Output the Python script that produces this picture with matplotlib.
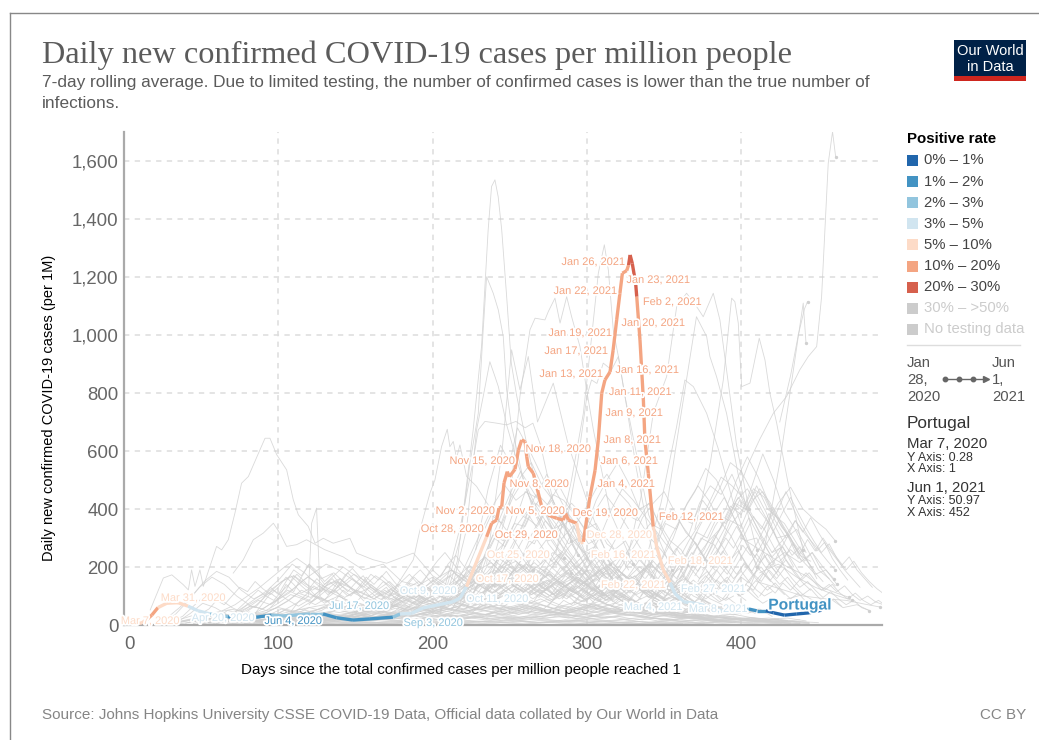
import matplotlib
matplotlib.use("Agg")
import matplotlib.pyplot as plt
import matplotlib.patheffects as pe
from matplotlib.patches import Rectangle
from matplotlib.lines import Line2D

# ---------- text ----------
title = "Daily new confirmed COVID-19 cases per million people"
subtitle = ["7-day rolling average. Due to limited testing, the number of confirmed cases is lower than the true number of",
            "infections."]
y_title = "Daily new confirmed COVID-19 cases (per 1M)"
x_title = "Days since the total confirmed cases per million people reached 1"
source = "Source: Johns Hopkins University CSSE COVID-19 Data, Official data collated by Our World in Data"
x_ticks = [0, 100, 200, 300, 400]
y_ticks = [0, 200, 400, 600, 800, 1000, 1200, 1400, 1600]
y_tick_labels = ["0", "200", "400", "600", "800", "1,000", "1,200", "1,400", "1,600"]
legend_labels = ["0% – 1%", "1% – 2%", "2% – 3%", "3% – 5%", "5% – 10%", "10% – 20%", "20% – 30%", "30% – >50%", "No testing data"]

# ---------- Portugal ----------
pt_days = [1, 11.5, 15, 18, 22, 27.7, 35, 41.5, 48, 55.7, 62, 67.4, 70.6, 86, 95.7, 103, 120.5, 129, 137.8, 148.4,
           159.4, 174.3, 178.9, 186.4, 193.8, 213.2, 217.8, 222, 235, 238.3, 241.5, 243, 244.8, 246.3, 248.4, 249.7,
           253.4, 255.6, 257.7, 260, 261, 262, 265.3, 270.7, 275, 280.4, 284.7, 286.2, 288, 293.4, 295.5, 297.7, 302,
           305.3, 307.4, 309.6, 311.7, 315, 317, 319.3, 321.4, 323, 325.8, 327, 328, 329.4, 331.6, 332.3, 334.4, 336.6,
           337.6, 339.8, 343, 345.2, 349.5, 353.9, 357, 362.5, 370, 378, 388, 398, 405, 410, 416, 421, 428, 436, 444, 452]
pt_cases = [0.28, 7, 20, 34, 60, 75, 77, 65, 49, 38, 32, 29, 24, 27, 34, 31, 38, 38, 25, 17,
            21, 27, 38, 40, 59, 80, 93, 132, 304, 351, 362, 403, 408, 490, 529, 511,
            537, 603, 638, 632, 580, 546, 523, 408, 379, 368, 362, 385, 362, 351, 287, 287, 442,
            534, 638, 799, 845, 873, 948, 1052, 1144, 1213, 1222, 1241, 1276, 1247, 1178, 1132, 983, 776,
            638, 523, 339, 270, 190, 146, 109, 80, 75, 65, 48, 45, 55, 49, 49, 42, 34, 38, 42, 50.97]
pt_bins = [4, 4, 5, 5, 4, 4, 4, 3, 3, 2, 2, 1, 1, 1, 2, 2, 2, 1, 1, 1,
           1, 2, 3, 3, 3, 3, 3, 4, 5, 5, 5, 5, 5, 5, 5, 5,
           5, 5, 5, 5, 5, 5, 5, 5, 5, 5, 5, 5, 5, 4, 4, 5, 5,
           5, 5, 5, 5, 5, 5, 5, 5, 5, 5, 6, 6, 6, 6, 5, 5, 5,
           5, 5, 4, 4, 4, 3, 3, 3, 3, 3, 3, 2, 1, 1, 0, 0, 0, 0, 0]

date_labels = ["Mar 7, 2020", "Mar 31, 2020", "Apr 20, 2020", "Jun 4, 2020", "Jul 17, 2020", "Sep 3, 2020",
               "Oct 9, 2020", "Oct 11, 2020", "Oct 17, 2020", "Oct 25, 2020", "Oct 28, 2020", "Oct 29, 2020",
               "Nov 2, 2020", "Nov 5, 2020", "Nov 8, 2020", "Nov 15, 2020", "Nov 18, 2020", "Dec 19, 2020",
               "Dec 28, 2020", "Jan 4, 2021", "Jan 6, 2021", "Jan 8, 2021", "Jan 9, 2021", "Jan 11, 2021",
               "Jan 13, 2021", "Jan 16, 2021", "Jan 17, 2021", "Jan 19, 2021", "Jan 20, 2021", "Jan 22, 2021",
               "Jan 23, 2021", "Jan 26, 2021", "Feb 2, 2021", "Feb 12, 2021", "Feb 16, 2021", "Feb 18, 2021",
               "Feb 22, 2021", "Feb 27, 2021", "Mar 4, 2021", "Mar 8, 2021"]
date_label_bins = [4, 4, 3, 1, 2, 2, 3, 3, 4, 4, 5, 5, 5, 5, 5, 5, 5, 5, 4, 5, 5, 5, 5, 5, 5, 5, 5, 5, 5, 5, 5, 5, 5, 5,
                   4, 4, 4, 3, 3, 3]

# ---------- other countries: tall lines ----------
grey_tall_days = [
    [17, 25.5, 31, 38.4, 41.7, 43.8, 46, 49.2, 51.4, 60, 63.3, 67.6, 71.9, 76.2, 80.6, 88.1, 91.4, 94.6, 99, 105.4, 109.7, 113, 119.4, 123.8, 129.2, 135.6, 146.4, 150.7, 161.5, 170.2, 187.5, 200, 215, 230],
    [70.8, 77.3, 83.8, 90.3, 96.8, 101, 105.4, 111.9, 118.3, 130, 142, 155, 168, 180, 195, 210, 225],
    [100, 119.4, 121.6, 124.8, 126.3, 127, 135, 150],
    [170, 187.5, 191.8, 198.3, 201.5, 205.8, 209.5, 211.2, 213.4, 215.5, 217.7, 222, 228.5, 240, 252, 265],
    [205, 216, 226.3, 231.7, 236, 238.2, 240.4, 242.5, 244.8, 248, 251, 254.5, 262, 270, 280, 295, 310],
    [205, 218, 224.2, 229.6, 232.8, 235, 239.3, 242.6, 245.8, 248, 251, 258, 265, 275, 290],
    [210, 222, 228.5, 232.8, 237.1, 240.4, 242.6, 248, 255, 262, 272, 285],
    [205, 218, 226, 229.6, 233.9, 241.5, 248, 254, 260, 265, 270, 278, 290],
    [240, 250, 256.6, 263.1, 266.4, 272.8, 275, 279.3, 282.6, 286.9, 290.1, 295.5, 299.8, 304.2, 315, 330],
    [280, 290, 297.7, 303.1, 307.4, 311.3, 313.9, 317.1, 320.4, 324.7, 329, 340, 355],
    [325, 335, 343, 351.7, 356, 358.2, 364.6, 371.1, 375.4, 381.9, 386.2, 390.5, 397, 405],
    [370, 380, 388.4, 393.8, 395.9, 398.1, 400.3, 405.7, 411.7, 415.4, 418.6, 423, 430, 440],
    [405, 415, 425, 431.6, 437, 440.2, 442],
    [425, 432, 437, 441, 443],
    [395, 405, 412, 420.8, 429.4, 438, 443.5, 448.9, 452.1, 456.4, 459.2, 461.2],
    [340, 352, 362, 371, 377.6, 379.7, 384, 390.5, 398, 410],
    [335, 348, 358, 363.5, 369, 377.6, 385, 395, 410],
    [235, 245, 251.2, 256.6, 262, 268, 278.2, 288, 300, 315],
    [285, 294, 300, 303, 306.5, 310.6, 316, 320.4, 324.7, 332, 342],
    [228, 236, 244, 250, 255, 263, 272, 282, 294],
]
grey_tall_vals = [
    [52, 162, 173, 139, 121, 190, 133, 190, 133, 271, 259, 294, 386, 489, 512, 604, 644, 644, 587, 535, 432, 380, 340, 282, 299, 282, 299, 248, 225, 213, 248, 170, 120, 90],
    [179, 225, 294, 317, 351, 317, 271, 277, 294, 260, 235, 190, 210, 150, 130, 110, 80],
    [40, 98, 351, 403, 213, 98, 70, 50],
    [80, 225, 328, 455, 500, 615, 675, 615, 633, 575, 621, 512, 478, 380, 300, 190],
    [40, 220, 673, 960, 1362, 1512, 1535, 1477, 1362, 1132, 903, 790, 600, 420, 300, 200, 110],
    [50, 300, 558, 730, 1018, 1201, 1144, 1086, 994, 810, 690, 520, 400, 280, 180],
    [70, 330, 673, 788, 908, 857, 822, 690, 560, 450, 330, 230],
    [70, 340, 558, 673, 702, 696, 690, 702, 680, 696, 620, 430, 290],
    [240, 420, 788, 1018, 1058, 1052, 1081, 1127, 1041, 1132, 1063, 960, 811, 673, 390, 210],
    [250, 500, 730, 995, 1213, 1311, 1224, 1017, 926, 788, 673, 380, 190],
    [200, 440, 730, 857, 1018, 1098, 1144, 1098, 1063, 1144, 1052, 880, 620, 400],
    [330, 560, 845, 1127, 1115, 1041, 822, 834, 989, 914, 799, 696, 500, 260],
    [120, 260, 560, 799, 995, 1110, 972],
    [700, 860, 1000, 1090, 1115],
    [420, 560, 640, 730, 788, 880, 926, 960, 1132, 1592, 1701, 1615],
    [180, 420, 760, 1063, 995, 926, 857, 730, 520, 260],
    [160, 420, 680, 845, 822, 730, 610, 420, 200],
    [210, 600, 949, 811, 926, 700, 834, 620, 430, 210],
    [300, 560, 790, 845, 833, 903, 880, 926, 788, 540, 260],
    [260, 470, 620, 560, 680, 600, 500, 380, 240],
]

# ---------- other countries: mid-height lines (a value every 7 days) ----------
grey_mid_start = [205, 210, 215, 218, 222, 225, 228, 232, 235, 212, 240, 245, 250, 262, 270, 278, 285,
                  330, 335, 340, 345, 350, 352, 355, 358, 360, 362, 365, 370, 372, 375, 380, 295, 305, 315, 320]
grey_mid_vals = [
    [60, 110, 180, 260, 340, 420, 480, 430, 460, 390, 320, 260, 230, 170, 120],
    [70, 130, 210, 300, 380, 350, 440, 500, 420, 360, 310, 240, 190, 150],
    [50, 90, 170, 270, 360, 450, 530, 470, 410, 330, 350, 270, 200, 130, 100],
    [80, 160, 220, 310, 290, 400, 370, 450, 390, 340, 280, 300, 210, 150],
    [60, 140, 250, 330, 430, 510, 560, 480, 430, 350, 300, 230, 170],
    [90, 170, 240, 280, 350, 340, 420, 380, 320, 360, 280, 220, 240, 160],
    [70, 120, 230, 320, 300, 380, 440, 400, 340, 300, 250, 190, 160, 110],
    [100, 180, 260, 350, 460, 440, 520, 450, 380, 300, 320, 240, 180],
    [120, 190, 250, 320, 400, 360, 430, 350, 290, 250, 270, 190, 140],
    [50, 110, 160, 230, 300, 270, 340, 390, 330, 290, 310, 250, 200, 170],
    [130, 200, 290, 370, 340, 420, 480, 410, 350, 290, 240, 210, 170],
    [160, 230, 300, 280, 360, 320, 390, 340, 280, 300, 230, 180],
    [170, 220, 310, 380, 450, 430, 380, 330, 350, 280, 250, 190],
    [180, 260, 310, 370, 420, 380, 340, 310, 260, 290, 220],
    [150, 230, 300, 340, 300, 390, 450, 400, 340, 280, 220, 180],
    [200, 260, 340, 400, 470, 520, 460, 420, 360, 300, 260, 210],
    [190, 240, 330, 430, 500, 560, 490, 400, 420, 330, 260, 190],
    [120, 180, 260, 350, 330, 420, 480, 430, 360, 310, 240, 180],
    [100, 170, 230, 300, 400, 460, 540, 500, 420, 340, 260, 190, 150],
    [120, 210, 300, 370, 350, 430, 380, 440, 360, 290, 300, 220, 170],
    [100, 190, 270, 310, 420, 480, 450, 520, 430, 360, 280, 210],
    [110, 180, 240, 320, 300, 380, 360, 430, 380, 310, 250, 270, 200],
    [130, 220, 290, 350, 430, 510, 480, 440, 370, 330, 260, 190],
    [120, 160, 250, 310, 380, 350, 430, 470, 400, 350, 280, 230, 170],
    [150, 240, 330, 400, 470, 560, 530, 460, 390, 320, 240],
    [160, 220, 300, 280, 350, 420, 390, 460, 390, 300, 310, 230],
    [140, 210, 260, 340, 400, 500, 580, 510, 420, 350, 300, 220],
    [160, 240, 290, 330, 410, 380, 480, 590, 500, 390, 330, 250],
    [170, 230, 310, 370, 440, 400, 470, 420, 340, 290, 240, 190],
    [150, 220, 270, 360, 340, 430, 460, 380, 350, 290, 230, 160],
    [190, 260, 330, 420, 400, 480, 400, 370, 310, 240, 220],
    [200, 280, 350, 400, 470, 440, 360, 300, 330, 260, 190, 160],
    [180, 240, 310, 400, 470, 430, 380, 330, 280, 240],
    [170, 230, 300, 380, 360, 420, 350, 290, 260, 200],
    [160, 210, 280, 370, 420, 460, 390, 320, 280, 210],
    [180, 240, 300, 350, 330, 400, 340, 290, 230, 190],
]

# ---------- other countries: low lines (a value every 8 days) ----------
grey_low_start = [20, 25, 30, 35, 40, 45, 50, 55, 60, 65, 70, 75, 80, 90, 100, 110, 120, 130, 140, 150, 160, 170, 180,
                  22, 28, 33, 48, 58, 68, 78, 88, 98, 108, 118, 128, 138]
grey_low_vals = [
    [5, 25, 60, 100, 150, 185, 165, 120, 90, 110, 140, 170, 130, 95, 140, 160, 125, 90, 120, 150, 110, 90, 120, 150, 190, 170, 130, 160, 200, 230, 190, 150, 130, 170, 210, 250, 230, 190, 150, 170, 210, 180, 140, 160, 120, 90, 70, 50, 40, 55, 30],
    [8, 35, 80, 130, 165, 140, 100, 70, 95, 120, 90, 65, 90, 130, 150, 120, 100, 85, 120, 90, 70, 95, 130, 110, 150, 190, 160, 130, 170, 210, 180, 140, 175, 220, 190, 150, 180, 130, 150, 195, 160, 120, 140, 100, 80, 60, 45, 60, 40],
    [10, 30, 70, 110, 90, 60, 40, 70, 110, 150, 170, 140, 120, 160, 200, 170, 130, 100, 120, 95, 75, 100, 140, 120, 90, 130, 170, 200, 220, 180, 210, 250, 220, 170, 190, 150, 120, 160, 200, 170, 130, 110, 130, 90, 70, 55, 40, 50],
    [12, 40, 75, 60, 35, 20, 35, 60, 85, 110, 150, 180, 210, 190, 160, 130, 170, 140, 110, 90, 110, 140, 170, 130, 150, 180, 230, 200, 160, 200, 180, 140, 160, 130, 170, 210, 240, 200, 150, 120, 140, 100, 75, 60, 45, 35, 45],
    [6, 18, 30, 50, 70, 100, 130, 165, 200, 230, 200, 160, 180, 140, 110, 130, 100, 85, 110, 140, 165, 130, 100, 130, 160, 190, 160, 120, 155, 190, 220, 180, 140, 170, 200, 160, 130, 150, 110, 90, 115, 85, 65, 50, 60],
    [5, 15, 25, 35, 60, 90, 120, 160, 210, 180, 140, 110, 140, 175, 150, 120, 100, 125, 100, 80, 100, 85, 120, 150, 180, 150, 180, 210, 185, 150, 130, 160, 135, 175, 200, 170, 125, 95, 120, 95, 70, 50, 62, 44],
    [4, 12, 25, 45, 65, 55, 85, 120, 100, 80, 115, 150, 130, 110, 90, 115, 140, 105, 80, 65, 90, 120, 150, 125, 160, 200, 170, 145, 120, 150, 115, 145, 175, 210, 180, 140, 110, 130, 100, 80, 60, 72, 52],
    [6, 15, 30, 55, 85, 70, 100, 130, 165, 140, 120, 95, 120, 100, 75, 95, 125, 150, 120, 95, 75, 100, 80, 110, 140, 170, 140, 110, 145, 180, 155, 125, 100, 130, 155, 120, 95, 75, 90, 65, 50, 62, 40],
    [5, 18, 40, 65, 50, 75, 105, 90, 70, 95, 125, 160, 130, 95, 75, 95, 75, 100, 130, 105, 130, 160, 135, 105, 135, 115, 150, 185, 150, 120, 155, 190, 165, 130, 105, 125, 95, 70, 55, 68, 48],
    [7, 20, 45, 35, 55, 80, 110, 95, 125, 105, 85, 65, 85, 70, 95, 120, 95, 75, 60, 85, 110, 85, 115, 145, 120, 90, 120, 155, 125, 95, 125, 100, 135, 165, 140, 105, 80, 100, 70, 55, 42],
    [5, 12, 20, 35, 55, 45, 70, 95, 80, 60, 80, 60, 45, 65, 85, 70, 55, 75, 95, 75, 105, 135, 160, 130, 100, 120, 95, 130, 165, 135, 105, 85, 110, 140, 110, 85, 65, 50, 60, 40],
    [10, 25, 40, 60, 85, 120, 100, 80, 100, 80, 60, 80, 65, 90, 115, 90, 70, 55, 80, 105, 85, 110, 140, 115, 140, 175, 145, 115, 90, 110, 135, 105, 80, 100, 75, 60, 45, 55],
    [8, 15, 30, 50, 40, 60, 50, 75, 60, 45, 60, 80, 65, 50, 70, 90, 70, 100, 130, 110, 85, 110, 90, 120, 150, 125, 95, 120, 90, 75, 100, 80, 60, 75, 55, 40, 50, 36],
    [10, 22, 38, 55, 45, 65, 85, 70, 55, 70, 55, 75, 95, 75, 60, 85, 110, 90, 115, 145, 120, 95, 125, 155, 130, 100, 80, 105, 85, 110, 85, 65, 50, 62, 46],
    [12, 25, 35, 50, 65, 50, 40, 55, 70, 55, 75, 100, 125, 100, 80, 105, 130, 160, 130, 100, 130, 105, 85, 105, 135, 110, 85, 105, 80, 60, 75, 55, 42, 52],
    [10, 20, 30, 45, 60, 80, 65, 85, 110, 90, 70, 95, 120, 145, 170, 140, 110, 140, 175, 140, 110, 85, 110, 135, 105, 80, 100, 70, 55, 40, 52, 38],
    [8, 18, 32, 25, 40, 55, 45, 65, 50, 75, 100, 130, 105, 85, 110, 140, 165, 135, 105, 130, 100, 125, 155, 125, 95, 120, 90, 70, 85, 60, 45, 56],
    [15, 25, 20, 35, 50, 70, 90, 115, 95, 75, 100, 130, 160, 130, 100, 125, 150, 120, 95, 120, 150, 120, 90, 115, 85, 65, 50, 62, 44],
    [20, 30, 25, 40, 60, 85, 110, 135, 165, 190, 155, 125, 155, 185, 150, 120, 150, 175, 140, 110, 130, 100, 125, 95, 75, 55, 68, 48],
    [15, 28, 45, 70, 100, 130, 110, 145, 180, 150, 190, 215, 175, 140, 170, 135, 105, 135, 165, 130, 100, 120, 90, 70, 82, 58, 44],
    [18, 30, 50, 80, 115, 155, 125, 165, 205, 170, 135, 165, 200, 165, 130, 160, 190, 150, 120, 140, 105, 85, 60, 74, 52],
    [20, 40, 70, 105, 85, 120, 160, 200, 235, 195, 155, 185, 215, 175, 140, 170, 135, 160, 125, 100, 80, 60, 72, 50],
    [25, 50, 90, 140, 115, 155, 200, 240, 205, 170, 210, 250, 205, 165, 195, 230, 185, 150, 175, 135, 105, 80, 96, 66],
    [3, 12, 22, 35, 28, 38, 30, 22, 30, 20, 15, 24, 32, 25, 18, 26, 38, 30, 22, 34, 46, 36, 50, 65, 52, 42, 60, 78, 62, 50, 72, 90, 70, 55, 75, 95, 78, 60, 80, 62, 48, 58, 44, 34, 42, 30, 24, 18, 24, 16, 20, 14, 18],
    [4, 10, 18, 26, 20, 14, 20, 12, 18, 26, 20, 14, 10, 16, 24, 18, 30, 22, 36, 28, 44, 35, 55, 70, 55, 68, 85, 68, 55, 70, 55, 42, 60, 48, 66, 82, 65, 50, 62, 48, 38, 46, 32, 26, 20, 15, 20, 14, 18, 12, 15, 10],
    [5, 14, 24, 16, 24, 34, 26, 38, 28, 20, 28, 38, 30, 22, 30, 42, 32, 24, 34, 26, 38, 50, 40, 30, 44, 34, 48, 38, 52, 68, 54, 42, 56, 44, 34, 46, 36, 48, 38, 28, 36, 26, 20, 26, 18, 22, 15, 18, 12],
    [4, 10, 16, 24, 18, 12, 18, 26, 20, 30, 22, 16, 24, 34, 26, 20, 28, 38, 30, 42, 32, 25, 36, 28, 42, 34, 46, 36, 28, 38, 30, 40, 32, 24, 30, 22, 18, 24, 16, 20, 14, 18, 12, 15, 10],
    [6, 12, 8, 14, 20, 14, 10, 16, 24, 18, 26, 20, 14, 20, 28, 22, 16, 24, 32, 26, 20, 30, 24, 36, 28, 22, 30, 24, 32, 26, 18, 24, 30, 22, 16, 22, 14, 18, 12, 15, 10, 13, 9],
    [3, 8, 14, 10, 16, 12, 8, 12, 18, 14, 10, 14, 20, 16, 12, 18, 24, 18, 14, 20, 28, 22, 16, 22, 30, 24, 18, 14, 18, 24, 18, 14, 18, 12, 9, 12, 8, 11, 7, 9, 6, 8],
    [5, 8, 6, 10, 14, 10, 8, 12, 9, 14, 18, 14, 10, 7, 11, 16, 12, 9, 14, 10, 16, 22, 17, 12, 16, 12, 18, 14, 10, 14, 11, 8, 11, 7, 9, 6, 8, 5, 7],
    [3, 6, 9, 7, 5, 8, 12, 9, 7, 10, 7, 5, 8, 11, 8, 6, 9, 13, 10, 7, 10, 14, 11, 8, 12, 9, 6, 9, 12, 9, 7, 5, 8, 5, 7, 4, 6],
    [4, 7, 5, 8, 6, 4, 6, 9, 7, 5, 8, 6, 4, 6, 9, 7, 10, 14, 11, 8, 11, 8, 12, 9, 13, 10, 7, 5, 8, 6, 4, 6, 4, 5],
    [2, 4, 3, 5, 3, 2, 4, 6, 4, 3, 5, 7, 5, 3, 5, 4, 6, 8, 6, 4, 6, 9, 6, 4, 6, 4, 3, 5, 3, 2, 3, 2],
    [8, 16, 24, 34, 46, 60, 48, 38, 48, 62, 50, 64, 82, 66, 52, 66, 52, 40, 54, 70, 56, 44, 58, 46, 60, 76, 62, 48, 38, 48, 36, 44, 30],
    [10, 18, 28, 40, 32, 44, 58, 46, 60, 48, 36, 48, 62, 80, 64, 50, 66, 84, 68, 54, 42, 56, 70, 56, 44, 58, 44, 34, 44, 32, 38, 26],
    [12, 22, 34, 28, 38, 50, 66, 82, 66, 52, 68, 54, 70, 90, 110, 88, 70, 88, 70, 56, 72, 56, 70, 54, 42, 54, 40, 30, 24, 32, 22],
]

# ---------- other countries: short wiggly stretches (a value every 5 days) ----------
grey_dense_start = [50, 62, 75, 85, 95, 108, 120, 132, 145, 158, 170,
                    205, 214, 222, 230, 240, 248, 258, 266, 275, 284, 292, 300, 308, 316, 325, 333, 342, 350, 358, 366, 374, 382, 390, 398,
                    212, 226, 244, 262, 280, 298, 316, 334, 352, 370, 388, 404, 412]
grey_dense_vals = [
    [40, 55, 85, 70, 100, 130, 115, 150, 125, 105, 130, 165, 140, 110, 125, 95, 75, 90, 65, 50],
    [30, 50, 45, 70, 95, 120, 100, 85, 115, 140, 175, 150, 120, 135, 105, 120, 90, 70, 60, 45],
    [50, 70, 60, 90, 130, 105, 150, 190, 170, 210, 175, 140, 160, 125, 100, 115, 85, 65, 75, 50],
    [40, 75, 110, 90, 120, 170, 145, 125, 160, 130, 110, 140, 180, 150, 125, 95, 110, 85, 65],
    [60, 90, 140, 115, 165, 210, 185, 150, 175, 140, 115, 145, 170, 130, 110, 130, 95, 80, 60],
    [45, 80, 105, 135, 115, 150, 130, 170, 195, 165, 140, 120, 150, 125, 100, 120, 90, 75],
    [70, 100, 85, 120, 160, 135, 110, 140, 175, 155, 185, 150, 120, 140, 105, 85, 100, 70],
    [60, 85, 120, 100, 130, 165, 140, 170, 145, 115, 135, 165, 190, 160, 130, 100, 120, 90],
    [50, 75, 105, 140, 115, 90, 120, 150, 175, 145, 120, 140, 170, 205, 175, 140, 115, 90],
    [45, 70, 95, 125, 105, 135, 165, 140, 185, 220, 250, 215, 180, 150, 175, 140, 110, 90],
    [55, 80, 115, 95, 130, 160, 190, 165, 210, 240, 205, 175, 200, 165, 130, 150, 120, 95],
    [50, 80, 120, 95, 140, 185, 160, 210, 245, 215, 180, 205, 165, 135, 155, 120, 100, 130, 100, 80],
    [70, 105, 90, 135, 170, 150, 195, 230, 260, 225, 190, 165, 195, 160, 130, 145, 115, 95, 110, 85],
    [60, 95, 130, 115, 160, 200, 180, 220, 270, 300, 260, 220, 245, 205, 170, 195, 155, 125, 105, 80],
    [80, 115, 150, 130, 170, 215, 190, 240, 210, 255, 220, 185, 160, 185, 150, 125, 145, 115, 90, 100],
    [75, 110, 95, 140, 175, 155, 195, 235, 205, 245, 280, 240, 200, 225, 180, 150, 170, 135, 110, 90],
    [90, 125, 105, 150, 185, 165, 205, 250, 220, 190, 225, 260, 220, 185, 155, 180, 145, 120, 135, 100],
    [70, 105, 140, 120, 160, 200, 175, 145, 180, 220, 190, 160, 190, 155, 125, 145, 120, 100, 80, 95],
    [85, 120, 100, 135, 170, 150, 190, 165, 210, 240, 205, 170, 145, 170, 135, 155, 125, 100, 115, 85],
    [65, 100, 135, 115, 155, 190, 165, 200, 175, 215, 255, 215, 180, 205, 165, 135, 110, 130, 100, 80],
    [90, 125, 105, 140, 120, 165, 200, 175, 150, 185, 225, 195, 160, 135, 160, 125, 105, 125, 95, 75],
    [75, 110, 145, 125, 160, 135, 175, 210, 245, 210, 180, 215, 175, 145, 170, 135, 110, 90, 110, 85],
    [100, 135, 115, 155, 190, 165, 135, 170, 205, 240, 205, 170, 195, 155, 130, 150, 120, 100, 85, 100],
    [85, 120, 155, 130, 170, 145, 185, 220, 190, 225, 265, 225, 190, 160, 185, 145, 120, 140, 105, 85],
    [95, 130, 110, 150, 185, 215, 185, 155, 190, 230, 200, 240, 200, 165, 140, 165, 130, 105, 125, 95],
    [70, 105, 140, 175, 150, 190, 165, 205, 245, 285, 245, 205, 235, 195, 160, 185, 150, 120, 100, 115],
    [85, 120, 105, 145, 190, 160, 205, 250, 215, 260, 310, 270, 225, 255, 210, 175, 200, 160, 130, 105],
    [80, 115, 150, 130, 170, 215, 185, 230, 280, 240, 290, 340, 295, 250, 215, 245, 200, 165, 135, 110],
    [90, 130, 110, 150, 195, 240, 205, 255, 300, 265, 315, 370, 320, 275, 235, 265, 215, 175, 145, 120],
    [70, 110, 145, 125, 170, 210, 255, 220, 270, 320, 375, 330, 385, 330, 280, 240, 270, 220, 180, 150],
    [95, 135, 115, 160, 205, 175, 225, 275, 240, 290, 345, 405, 350, 300, 260, 220, 250, 200, 165, 135],
    [80, 120, 155, 135, 180, 225, 270, 235, 285, 340, 400, 460, 400, 345, 300, 255, 285, 230, 190, 155],
    [105, 145, 125, 170, 215, 185, 235, 285, 335, 390, 440, 385, 335, 290, 250, 280, 230, 190, 160, 130],
    [90, 130, 165, 145, 190, 240, 205, 255, 305, 360, 320, 370, 320, 275, 240, 205, 235, 190, 160, 130],
    [100, 140, 120, 165, 210, 180, 230, 280, 245, 295, 255, 300, 260, 225, 190, 220, 180, 150, 125, 105],
    [40, 60, 85, 70, 105, 90, 125, 160, 135, 170, 140, 115, 140, 110, 90, 105, 80, 65, 75, 55],
    [45, 70, 60, 90, 120, 100, 130, 165, 140, 115, 135, 105, 125, 100, 80, 95, 70, 60, 50, 60],
    [55, 75, 100, 85, 115, 95, 130, 105, 140, 170, 145, 120, 100, 120, 95, 75, 90, 70, 55, 65],
    [40, 65, 55, 80, 105, 90, 120, 100, 130, 110, 85, 105, 125, 100, 80, 65, 80, 60, 50, 40],
    [60, 85, 70, 100, 85, 115, 145, 120, 95, 120, 150, 120, 95, 115, 90, 70, 85, 65, 50, 60],
    [50, 75, 100, 85, 110, 135, 110, 140, 115, 90, 110, 135, 110, 90, 75, 90, 70, 55, 65, 45],
    [65, 90, 75, 105, 130, 110, 140, 170, 140, 110, 135, 105, 125, 100, 80, 95, 75, 60, 45, 55],
    [55, 80, 105, 90, 120, 100, 130, 155, 130, 160, 190, 155, 125, 100, 120, 95, 75, 90, 65, 50],
    [70, 95, 80, 110, 140, 170, 140, 175, 210, 175, 210, 175, 145, 120, 145, 115, 90, 110, 80, 60],
    [80, 110, 140, 120, 155, 130, 170, 205, 245, 205, 170, 140, 165, 130, 105, 125, 95, 75, 90, 65],
    [90, 125, 105, 140, 175, 150, 190, 160, 195, 160, 130, 150, 120, 95, 115, 90, 70, 85, 60, 50],
    [120, 150, 180, 155, 190, 225, 190, 155, 180, 145, 120, 140, 110, 90, 110, 85, 70, 85, 65, 60],
    [100, 135, 110, 145, 120, 150, 180, 150, 120, 140, 115, 135, 105, 85, 100, 80, 70, 62, 55, 48],
]

# ---------- other countries: line ends past day 430 ----------
grey_end_days = [
    [415, 424, 432, 440, 448, 455, 461], [420, 428, 435, 442, 450, 456, 461], [410, 425, 440, 455, 468, 480, 490],
    [425, 432, 440, 448, 455, 462], [412, 424, 436, 448, 460, 472], [400, 415, 430, 442, 452, 462, 470],
    [418, 428, 438, 446, 453, 460], [430, 440, 450, 458, 466, 475, 483],
]
grey_end_vals = [
    [330, 420, 475, 400, 360, 330, 290], [250, 300, 360, 310, 260, 220, 190], [150, 125, 100, 90, 85, 72, 62],
    [220, 260, 220, 175, 190, 140], [180, 210, 165, 130, 105, 85], [300, 250, 200, 170, 130, 110, 95],
    [210, 250, 215, 250, 200, 160], [90, 105, 75, 90, 60, 70, 50],
]

# ---------- other countries: lines near the floor (a value every 12 days) ----------
grey_floor_start = [30, 36, 42, 48, 54, 60, 66, 72, 78, 84, 34, 52, 70, 88, 106, 124]
grey_floor_vals = [
    [6, 18, 30, 24, 38, 30, 22, 34, 46, 36, 28, 40, 30, 44, 58, 46, 34, 50, 62, 48, 36, 52, 42, 58, 44, 60, 48, 36, 26, 34, 24, 18, 14, 10, 12, 8],
    [4, 14, 26, 20, 14, 24, 18, 28, 38, 30, 22, 34, 26, 38, 30, 42, 54, 42, 32, 46, 36, 24, 38, 50, 38, 28, 40, 30, 22, 16, 20, 12, 9, 12, 7],
    [8, 20, 36, 28, 42, 34, 46, 36, 26, 38, 52, 40, 30, 44, 34, 24, 36, 48, 60, 46, 34, 48, 66, 50, 38, 26, 36, 28, 20, 26, 16, 12, 16, 9],
    [5, 12, 20, 14, 22, 16, 12, 18, 26, 20, 30, 24, 16, 26, 34, 26, 20, 30, 24, 34, 44, 34, 26, 36, 28, 20, 28, 22, 16, 12, 8, 12, 7, 5],
    [3, 9, 15, 12, 18, 24, 18, 14, 20, 16, 24, 18, 26, 34, 26, 18, 28, 22, 30, 38, 28, 20, 28, 36, 26, 18, 24, 16, 12, 9, 12, 7, 5],
    [6, 16, 28, 40, 32, 22, 34, 26, 36, 48, 38, 28, 42, 54, 42, 32, 46, 60, 46, 34, 26, 38, 50, 38, 46, 34, 26, 18, 24, 16, 11, 14, 8],
    [4, 10, 18, 14, 20, 28, 22, 16, 24, 18, 12, 20, 14, 22, 30, 24, 16, 22, 28, 22, 30, 40, 32, 24, 18, 26, 18, 14, 18, 12, 8, 6],
    [3, 7, 12, 9, 14, 10, 16, 12, 8, 12, 16, 12, 18, 14, 10, 16, 22, 16, 12, 18, 14, 20, 26, 20, 14, 18, 12, 9, 12, 7, 5],
    [2, 5, 8, 6, 10, 8, 5, 8, 12, 9, 6, 10, 7, 12, 16, 12, 8, 11, 16, 12, 8, 13, 10, 14, 10, 7, 10, 6, 4, 6],
    [5, 12, 22, 32, 26, 18, 28, 20, 14, 24, 34, 28, 40, 30, 22, 34, 44, 36, 28, 40, 52, 42, 32, 24, 34, 26, 18, 24, 14, 10],
    [10, 24, 42, 54, 40, 30, 44, 58, 70, 54, 40, 56, 72, 58, 44, 60, 78, 62, 48, 66, 52, 40, 56, 74, 60, 46, 64, 50, 38, 30, 38, 26, 20, 24, 14],
    [6, 16, 30, 44, 60, 46, 36, 50, 66, 52, 38, 54, 70, 88, 70, 54, 70, 56, 42, 60, 78, 62, 48, 36, 50, 40, 30, 22, 28, 18, 14, 18],
    [8, 22, 36, 28, 44, 60, 48, 36, 52, 68, 54, 44, 60, 48, 64, 82, 64, 50, 66, 52, 40, 54, 70, 56, 42, 32, 24, 30, 20, 24, 16],
    [12, 26, 40, 32, 46, 36, 52, 70, 56, 42, 58, 46, 62, 50, 66, 52, 40, 56, 72, 56, 44, 60, 46, 36, 28, 34, 22, 16, 20],
    [14, 30, 22, 36, 50, 40, 30, 44, 60, 76, 60, 46, 62, 80, 64, 48, 62, 50, 38, 52, 40, 30, 40, 28, 20, 26, 18, 14],
    [10, 18, 30, 24, 36, 28, 42, 56, 44, 34, 48, 38, 52, 42, 32, 44, 58, 46, 34, 44, 32, 24, 30, 20, 16, 20],
]

# ---------- layout and style ----------
W, H = 1039, 740
X0, X1, Y0, Y1 = 124.0, 882.0, 625.0, 132.0
DAY_MAX, CASE_MAX = (X1 - X0) / 1.543, (Y0 - Y1) / 0.29
GREY_MID_STEP, GREY_LOW_STEP, GREY_DENSE_STEP, GREY_FLOOR_STEP = 7, 8, 5, 12
bin_colors = ["#2166ac", "#4393c3", "#92c5de", "#d1e5f0", "#fddbc7", "#f4a582", "#d6604d", "#cccccc", "#cccccc"]
date_label_pos = [(150, 621), (193, 598), (223, 618), (293, 621), (359, 606), (433, 623), (428, 591), (497, 599),
                  (507, 579), (518, 555), (452, 529), (526, 535), (465, 511), (535, 511), (539, 484), (482, 461),
                  (558, 449), (605, 513), (619, 535), (626, 484), (629, 461), (632, 440), (634, 413), (640, 392),
                  (571, 374), (647, 370), (576, 351), (580, 333), (653, 323), (585, 291), (658, 280), (593, 262),
                  (672, 302), (691, 517), (623, 555), (700, 561), (633, 585), (713, 589), (653, 607), (718, 609)]
GREY = "#d0d0d0"
FS = 0.72  # px -> pt at dpi 100
SANS = "Liberation Sans"


def fx(px):
    return px / W


def fy(py):
    return 1 - py / H


fig = plt.figure(figsize=(W / 100, H / 100), dpi=100, facecolor="white")
plt.rcParams["font.family"] = SANS
ax = fig.add_axes([fx(X0), fy(Y0), (X1 - X0) / W, (Y0 - Y1) / H])
ax.set_xlim(0, DAY_MAX)
ax.set_ylim(0, CASE_MAX)
for s in ["top", "right"]:
    ax.spines[s].set_visible(False)
for s in ["left", "bottom"]:
    ax.spines[s].set_color("#aaaaaa")
    ax.spines[s].set_linewidth(1.6)
ax.set_xticks(x_ticks)
ax.set_yticks(y_ticks)
ax.set_yticklabels(y_tick_labels)
ax.tick_params(length=0, labelsize=18.7 * FS, labelcolor="#666666", pad=4)
ax.tick_params(axis="x", pad=8)
ax.get_xticklabels()[0].set_ha("left")
ax.grid(True, color="#dddddd", linestyle=(0, (3.5, 3.5)), linewidth=1.1)
ax.set_axisbelow(True)
ax.xaxis.get_gridlines()[0].set_visible(False)
ax.yaxis.get_gridlines()[0].set_visible(False)

grey_kw = dict(color=GREY, lw=0.6, alpha=0.8, solid_joinstyle="round", zorder=2)
for d, v in zip(grey_tall_days, grey_tall_vals):
    ax.plot(d, v, **grey_kw)
    ax.plot(d[-1], v[-1], "o", ms=1.4, color=GREY, zorder=2)
for d, v in zip(grey_end_days, grey_end_vals):
    ax.plot(d, v, **grey_kw)
    ax.plot(d[-1], v[-1], "o", ms=1.4, color=GREY, zorder=2)
for st, v in zip(grey_mid_start, grey_mid_vals):
    ax.plot([st + i * GREY_MID_STEP for i in range(len(v))], v, **grey_kw)
for st, v in zip(grey_low_start, grey_low_vals):
    ax.plot([st + i * GREY_LOW_STEP for i in range(len(v))], v, **grey_kw)
for st, v in zip(grey_dense_start, grey_dense_vals):
    ax.plot([st + i * GREY_DENSE_STEP for i in range(len(v))], v, **grey_kw)
for st, v in zip(grey_floor_start, grey_floor_vals):
    ax.plot([st + i * GREY_FLOOR_STEP for i in range(len(v))], v, **grey_kw)

for i in range(len(pt_days) - 1):
    ax.plot(pt_days[i:i + 2], pt_cases[i:i + 2], color=bin_colors[pt_bins[i]], lw=2.4,
            solid_capstyle="butt", solid_joinstyle="round", zorder=3)

halo = [pe.withStroke(linewidth=2.6, foreground="white")]
for txt, (px, py), b in zip(date_labels, date_label_pos, date_label_bins):
    fig.text(fx(px), fy(py), txt, ha="center", va="center", fontsize=11 * FS,
             color=bin_colors[b], path_effects=halo, zorder=5)
fig.text(fx(800), fy(605), "Portugal", ha="center", va="center", fontsize=15.6 * FS, fontweight="bold",
         color="#4393c3", path_effects=halo, zorder=6)

# headers
fig.text(fx(42), fy(55), title, family="Liberation Serif", fontsize=32.4 * FS, color="#5b5b5b", va="center")
fig.text(fx(42), fy(82.5), subtitle[0], fontsize=17.2 * FS, color="#5b5b5b", va="center")
fig.text(fx(42), fy(103), subtitle[1], fontsize=17.2 * FS, color="#5b5b5b", va="center")
fig.text(fx(49), fy(408), y_title, rotation=90, ha="center", va="center", fontsize=14.6 * FS, color="#000000")
fig.text(fx(461), fy(670), x_title, ha="center", va="center", fontsize=15.1 * FS, color="#000000")
fig.text(fx(42), fy(715), source, fontsize=15.2 * FS, color="#858585", va="center")
fig.text(fx(1026), fy(715), "CC BY", ha="right", fontsize=15.1 * FS, color="#858585", va="center")

# logo
fig.add_artist(Rectangle((fx(954), fy(81)), 72 / W, 41 / H, transform=fig.transFigure, color="#002147", lw=0))
fig.add_artist(Rectangle((fx(954), fy(81)), 72 / W, 5 / H, transform=fig.transFigure, color="#ce261e", lw=0))
fig.text(fx(990), fy(51), "Our World", ha="center", va="center", color="white", fontsize=14.6 * FS)
fig.text(fx(990), fy(67), "in Data", ha="center", va="center", color="white", fontsize=14.6 * FS)

# frame
fig.add_artist(Line2D([fx(10), 1], [fy(13), fy(13)], transform=fig.transFigure, color="#888888", lw=1))
fig.add_artist(Line2D([fx(10), fx(10)], [fy(13), 0], transform=fig.transFigure, color="#888888", lw=1))

# legend
fig.text(fx(907), fy(139), "Positive rate", fontsize=15 * FS, fontweight="bold", color="#000000", va="center")
for i, (lab, col) in enumerate(zip(legend_labels, bin_colors)):
    py = 160.5 + i * 21.1
    fig.add_artist(Rectangle((fx(907), fy(py + 5.5)), 11 / W, 11 / H, transform=fig.transFigure, color=col, lw=0))
    fig.text(fx(924), fy(py), lab, fontsize=14.9 * FS, va="center", color="#444444" if i < 7 else "#cccccc")
fig.add_artist(Line2D([fx(907), fx(1020)], [fy(345), fy(345)], transform=fig.transFigure, color="#dddddd", lw=1))
for py, a, b in [(363, "Jan", "Jun"), (380, "28,", "1,"), (397, "2020", "2021")]:
    fig.text(fx(907), fy(py), a, fontsize=14.9 * FS, va="center", color="#555555")
    fig.text(fx(992), fy(py), b, fontsize=14.9 * FS, va="center", color="#555555")
fig.add_artist(Line2D([fx(945), fx(986)], [fy(379), fy(379)], transform=fig.transFigure, color="#666666", lw=1))
fig.add_artist(Line2D([fx(945), fx(959), fx(973)], [fy(379)] * 3, transform=fig.transFigure, color="#666666",
                      lw=0, marker="o", ms=3.2))
fig.add_artist(Line2D([fx(986)], [fy(379)], transform=fig.transFigure, color="#666666", lw=0, marker=">", ms=4.5))
fig.text(fx(907), fy(423), "Portugal", fontsize=17.3 * FS, va="center", color="#333333")
for py, t, s in [(444, "Mar 7, 2020", 15), (458, "Y Axis: 0.28", 12.5), (469, "X Axis: 1", 12.5),
                 (488, "Jun 1, 2021", 15), (501, "Y Axis: 50.97", 12.5), (513, "X Axis: 452", 12.5)]:
    fig.text(fx(907), fy(py), t, fontsize=s * FS, va="center", color="#333333")

fig.savefig("out.png", dpi=100)
